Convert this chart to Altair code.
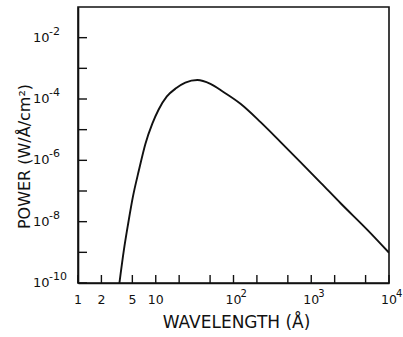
import altair as alt
import pandas as pd

# curve
wavelength = [3.41, 3.89, 4.42, 5.08, 6.07, 7.37, 9.01, 10.9, 13.9, 18.4, 24.0, 34.3,
              50.5, 75.0, 123, 223, 404, 732, 1326, 2404, 5310, 10000]
power = [1.0e-10, 1.18e-9, 8.73e-9, 6.41e-8, 4.73e-7, 3.49e-6, 1.54e-5, 4.56e-5,
         1.21e-4, 2.28e-4, 3.44e-4, 4.15e-4, 3.12e-4, 1.66e-4, 6.98e-5, 1.76e-5,
         3.94e-6, 8.6e-7, 1.85e-7, 3.91e-8, 5.3e-9, 9.7e-10]

# axis ticks and labels
x_ticks = [1, 2, 5, 10, 20, 50, 100, 200, 500, 1000, 2000, 5000, 10000]
x_label_values = [1, 2, 5, 10, 100, 1000, 10000]
x_label_base = ["1", "2", "5", "10", "10", "10", "10"]
x_label_exp = ["", "", "", "", "2", "3", "4"]

y_ticks = [1e-10, 1e-9, 1e-8, 1e-7, 1e-6, 1e-5, 1e-4, 1e-3, 1e-2]
y_label_values = [1e-10, 1e-8, 1e-6, 1e-4, 1e-2]
y_label_base = ["10", "10", "10", "10", "10"]
y_label_exp = ["-10", "-8", "-6", "-4", "-2"]

x_title = "WAVELENGTH (Å)"
y_title = "POWER (W/Å/cm²)"

FONT = "DejaVu Sans"
INK = "#111111"

df = pd.DataFrame({"wavelength": wavelength, "power": power})
xt = pd.DataFrame({"v": x_ticks})
yt = pd.DataFrame({"v": y_ticks})
xl = pd.DataFrame({"v": x_label_values, "base": x_label_base, "exp": x_label_exp})
yl = pd.DataFrame({"v": y_label_values, "base": y_label_base, "exp": y_label_exp})

xscale = alt.Scale(type="log", domain=[1, 10000])
yscale = alt.Scale(type="log", domain=[1e-10, 1e-1])

xaxis = alt.Axis(values=x_ticks, ticks=False, labels=False, grid=False,
                 domainColor=INK, domainWidth=1.6,
                 title=x_title, titleFont=FONT, titleFontSize=17,
                 titleFontWeight="normal", titleColor=INK,
                 titleX=158, titleY=39, titleBaseline="middle", titleAlign="center")
yaxis = alt.Axis(values=y_ticks, ticks=False, labels=False, grid=False,
                 domainColor=INK, domainWidth=1.6,
                 title=y_title, titleFont=FONT, titleFontSize=16,
                 titleFontWeight="normal", titleColor=INK,
                 titleX=-54, titleY=149, titleBaseline="middle", titleAlign="center")

curve = alt.Chart(df).mark_line(color=INK, strokeWidth=1.9, interpolate="monotone",
                                clip=True).encode(
    x=alt.X("wavelength:Q", scale=xscale, axis=xaxis),
    y=alt.Y("power:Q", scale=yscale, axis=yaxis),
)

xtick_marks = alt.Chart(xt).mark_rule(color=INK, strokeWidth=1.4).encode(
    x=alt.X("v:Q", scale=xscale),
    y=alt.value(276),
    y2=alt.value(268),
)
ytick_marks = alt.Chart(yt).mark_rule(color=INK, strokeWidth=1.4).encode(
    y=alt.Y("v:Q", scale=yscale),
    x=alt.value(0),
    x2=alt.value(9),
)

x_base = alt.Chart(xl).mark_text(font=FONT, fontSize=12.5, color=INK, align="center",
                                 baseline="middle").encode(
    x=alt.X("v:Q", scale=xscale), y=alt.value(293), text="base:N")
x_exp = alt.Chart(xl).mark_text(font=FONT, fontSize=10, color=INK, align="left",
                                baseline="middle", dx=7, dy=-6).encode(
    x=alt.X("v:Q", scale=xscale), y=alt.value(293), text="exp:N")

y_base = alt.Chart(yl).mark_text(font=FONT, fontSize=13, color=INK, align="left",
                                 baseline="middle").encode(
    y=alt.Y("v:Q", scale=yscale), x=alt.value(-45), text="base:N")
y_exp = alt.Chart(yl).mark_text(font=FONT, fontSize=11, color=INK, align="left",
                                baseline="middle", dy=-6).encode(
    y=alt.Y("v:Q", scale=yscale), x=alt.value(-29), text="exp:N")

chart = alt.layer(curve, xtick_marks, ytick_marks, x_base, x_exp, y_base, y_exp).properties(
    width=311, height=276,
    padding={"left": 78, "top": 7, "right": 14, "bottom": 54},
    autosize=alt.AutoSizeParams(type="none"),
    background="white",
).configure_view(stroke=INK, strokeWidth=1.6)

chart.save("out.html", embed_options={"renderer": "svg", "actions": False})
